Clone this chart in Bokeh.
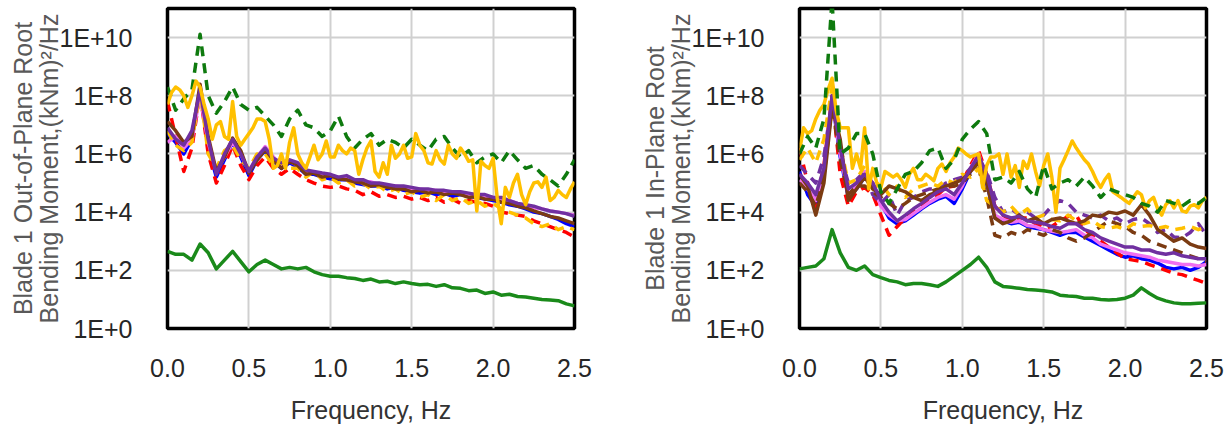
from bokeh.plotting import figure
from bokeh.layouts import row
from bokeh.models import Range1d, FixedTicker, CustomJSTickFormatter
from bokeh.embed import file_html
from bokeh.resources import INLINE

# ---------------- data ----------------
freq_05 = [0.0, 0.05, 0.1, 0.15, 0.2, 0.25, 0.3, 0.35, 0.4, 0.45,
           0.5, 0.55, 0.6, 0.65, 0.7, 0.75, 0.8, 0.85, 0.9, 0.95,
           1.0, 1.05, 1.1, 1.15, 1.2, 1.25, 1.3, 1.35, 1.4, 1.45,
           1.5, 1.55, 1.6, 1.65, 1.7, 1.75, 1.8, 1.85, 1.9, 1.95,
           2.0, 2.05, 2.1, 2.15, 2.2, 2.25, 2.3, 2.35, 2.4, 2.45, 2.5]

freq_025 = [0.0, 0.025, 0.05, 0.075, 0.1, 0.125, 0.15, 0.175, 0.2, 0.225,
            0.25, 0.275, 0.3, 0.325, 0.35, 0.375, 0.4, 0.425, 0.45, 0.475,
            0.5, 0.525, 0.55, 0.575, 0.6, 0.625, 0.65, 0.675, 0.7, 0.725,
            0.75, 0.775, 0.8, 0.825, 0.85, 0.875, 0.9, 0.925, 0.95, 0.975,
            1.0, 1.025, 1.05, 1.075, 1.1, 1.125, 1.15, 1.175, 1.2, 1.225,
            1.25, 1.275, 1.3, 1.325, 1.35, 1.375, 1.4, 1.425, 1.45, 1.475,
            1.5, 1.525, 1.55, 1.575, 1.6, 1.625, 1.65, 1.675, 1.7, 1.725,
            1.75, 1.775, 1.8, 1.825, 1.85, 1.875, 1.9, 1.925, 1.95, 1.975,
            2.0, 2.025, 2.05, 2.075, 2.1, 2.125, 2.15, 2.175, 2.2, 2.225,
            2.25, 2.275, 2.3, 2.325, 2.35, 2.375, 2.4, 2.425, 2.45, 2.475, 2.5]

x_ticks = [0.0, 0.5, 1.0, 1.5, 2.0, 2.5]
y_ticks = [1e0, 1e2, 1e4, 1e6, 1e8, 1e10]

# ----- Out-of-plane (left) -----
oop_green_dash = [2.0e8, 3.2e7, 7.9e7, 1.6e8, 1.3e10, 1.0e8, 2.5e7, 6.3e7, 2.0e8, 5.0e7,
                  3.2e7, 4.0e7, 2.0e7, 1.0e7, 4.0e6, 1.6e7, 3.2e7, 1.0e7, 7.9e6, 4.0e6,
                  6.3e6, 2.0e7, 4.0e6, 1.6e6, 3.2e6, 5.0e6, 2.0e6, 3.2e6, 2.5e6, 1.6e6,
                  3.2e6, 2.0e6, 1.3e6, 3.2e6, 4.0e6, 1.6e6, 7.9e5, 1.3e6, 5.0e5, 7.9e5,
                  1.0e6, 5.0e5, 1.3e6, 6.3e5, 3.2e5, 4.0e5, 2.0e5, 1.3e5, 7.9e4, 2.0e5, 6.3e5]
oop_gold_solid = [5.0e7, 1.3e8, 2.0e8, 1.6e8, 1.0e8, 4.0e7, 1.0e8, 3.2e8, 2.0e8, 5.0e7,
                  1.6e7, 3.2e6, 1.0e7, 1.3e7, 4.0e6, 3.2e6, 6.3e7, 4.0e6, 2.0e6, 3.2e6,
                  5.0e6, 7.9e6, 1.6e7, 1.6e7, 1.3e7, 3.2e6, 3.2e5, 4.0e5, 1.0e6, 3.2e5,
                  2.5e6, 7.9e6, 1.0e6, 5.0e5, 3.2e5, 7.9e5, 2.0e6, 6.3e5, 1.0e6, 2.8e6,
                  7.9e5, 7.9e5, 2.0e6, 1.3e6, 1.0e6, 1.6e6, 1.3e6, 2.0e5, 6.3e5, 1.6e6,
                  2.8e6, 2.5e5, 1.6e5, 5.0e5, 2.0e5, 2.0e6, 7.1e5, 1.0e6, 2.0e6, 7.1e5,
                  7.9e5, 5.0e6, 2.0e6, 1.3e6, 5.0e5, 4.5e5, 1.3e6, 6.3e5, 4.5e5, 2.0e6,
                  1.0e6, 7.1e5, 1.6e6, 1.0e6, 5.6e5, 6.3e5, 1.1e4, 5.6e5, 4.0e5, 3.2e5,
                  7.1e5, 3.2e4, 4.0e3, 7.1e4, 3.2e4, 1.0e5, 2.0e5, 4.0e4, 1.8e4, 5.0e4,
                  1.0e5, 1.1e5, 7.1e4, 1.6e5, 2.5e4, 3.2e4, 5.6e4, 4.0e4, 3.2e4, 6.3e4,
                  1.1e5]
oop_gold_dash = [6.3e6, 2.0e6, 1.3e6, 2.5e6, 1.6e8, 1.0e6, 3.2e5, 1.3e6, 2.0e6, 6.3e5,
                 3.2e5, 1.0e6, 1.0e6, 4.0e5, 5.0e5, 3.2e5, 3.2e5, 1.6e5, 2.5e5, 1.3e5,
                 1.6e5, 1.0e5, 1.3e5, 7.9e4, 1.0e5, 6.3e4, 7.9e4, 5.0e4, 6.3e4, 4.0e4,
                 5.0e4, 3.2e4, 4.0e4, 2.5e4, 4.0e4, 2.5e4, 3.2e4, 2.0e4, 2.5e4, 1.6e4,
                 2.0e4, 1.3e4, 1.0e4, 7.9e3, 6.3e3, 4.0e3, 3.2e3, 4.0e3, 2.5e3, 3.2e3, 2.5e3]
oop_red_dash = [6.3e7, 4.0e6, 2.5e5, 1.6e6, 1.3e8, 1.0e6, 1.0e5, 4.0e5, 2.0e6, 4.0e5,
                1.3e5, 4.0e5, 7.9e5, 3.2e5, 2.0e5, 3.2e5, 2.0e5, 1.3e5, 1.0e5, 7.9e4,
                7.1e4, 7.9e4, 6.3e4, 5.6e4, 4.0e4, 5.0e4, 3.5e4, 4.0e4, 3.2e4, 3.5e4,
                2.8e4, 3.2e4, 2.5e4, 3.2e4, 2.2e4, 2.8e4, 2.0e4, 2.5e4, 2.2e4, 2.0e4,
                1.6e4, 1.0e4, 8.9e3, 7.9e3, 7.1e3, 5.0e3, 4.0e3, 3.2e3, 2.5e3, 2.0e3, 1.4e3]
oop_blue = [5.0e6, 2.5e6, 1.0e6, 3.2e6, 1.6e8, 1.6e6, 1.6e5, 6.3e5, 2.5e6, 7.9e5,
            1.8e5, 6.3e5, 1.3e6, 5.6e5, 3.2e5, 5.0e5, 3.5e5, 2.0e5, 2.0e5, 1.6e5,
            1.4e5, 1.3e5, 1.3e5, 1.0e5, 8.9e4, 7.9e4, 7.9e4, 6.3e4, 7.1e4, 5.6e4,
            5.0e4, 4.5e4, 5.0e4, 4.0e4, 4.5e4, 3.5e4, 4.0e4, 3.5e4, 3.2e4, 2.8e4,
            2.5e4, 2.2e4, 1.8e4, 1.6e4, 1.3e4, 1.0e4, 8.9e3, 7.1e3, 5.6e3, 4.0e3, 3.2e3]
oop_magenta = [2.5e6, 4.0e6, 1.6e6, 3.2e6, 1.0e8, 2.5e6, 2.5e5, 7.9e5, 2.5e6, 1.0e6,
               2.5e5, 7.9e5, 1.8e6, 7.9e5, 4.0e5, 5.6e5, 4.0e5, 2.5e5, 2.2e5, 2.0e5,
               1.8e5, 1.6e5, 1.4e5, 1.3e5, 1.0e5, 1.1e5, 8.9e4, 7.9e4, 7.9e4, 7.1e4,
               6.3e4, 6.3e4, 5.6e4, 5.6e4, 5.0e4, 5.0e4, 4.5e4, 4.0e4, 4.0e4, 3.5e4,
               3.2e4, 2.8e4, 2.5e4, 2.0e4, 1.6e4, 1.4e4, 1.3e4, 1.1e4, 1.0e4, 8.9e3, 7.9e3]
oop_purple = [7.9e6, 3.2e6, 2.0e6, 6.3e6, 1.6e8, 3.2e6, 2.0e5, 1.0e6, 3.2e6, 1.0e6,
              2.5e5, 7.9e5, 1.6e6, 7.1e5, 5.0e5, 6.3e5, 5.0e5, 2.8e5, 2.5e5, 2.2e5,
              2.0e5, 1.6e5, 1.8e5, 1.3e5, 1.3e5, 1.0e5, 1.0e5, 8.9e4, 7.9e4, 7.9e4,
              7.1e4, 6.3e4, 6.3e4, 5.6e4, 5.6e4, 5.0e4, 5.0e4, 4.5e4, 4.0e4, 4.0e4,
              3.2e4, 3.2e4, 2.5e4, 2.0e4, 1.8e4, 1.6e4, 1.3e4, 1.1e4, 1.0e4, 8.9e3, 7.1e3]
oop_brown = [1.3e7, 6.3e6, 2.5e6, 4.0e6, 2.5e8, 4.0e6, 2.5e5, 7.9e5, 3.5e6, 1.3e6,
             2.2e5, 6.3e5, 1.4e6, 6.3e5, 3.2e5, 5.6e5, 4.0e5, 2.0e5, 2.2e5, 1.6e5,
             1.8e5, 1.4e5, 1.3e5, 1.1e5, 1.0e5, 7.9e4, 8.9e4, 7.1e4, 6.3e4, 6.3e4,
             5.0e4, 5.6e4, 4.5e4, 5.0e4, 4.0e4, 4.5e4, 4.0e4, 3.2e4, 3.5e4, 2.8e4,
             2.8e4, 2.2e4, 2.0e4, 1.6e4, 1.4e4, 1.1e4, 8.9e3, 7.1e3, 6.3e3, 5.0e3, 4.0e3]
oop_green_solid = [450, 355, 355, 224, 800, 400, 112, 224, 450, 200,
                   89, 158, 224, 158, 112, 126, 112, 126, 89, 71,
                   63, 63, 56, 52, 45, 50, 40, 42, 35, 40,
                   35, 32, 33, 28, 32, 25, 24, 20, 21, 16,
                   18, 14, 15, 12.6, 12, 11, 10, 9.5, 9, 7, 6]

# ----- In-plane (right) -----
ip_green_dash = [1.0e6, 4.0e6, 1.6e6, 1.6e7, 2.0e11, 1.0e6, 1.6e6, 5.0e6, 5.0e6, 1.0e6,
                 5.0e4, 2.0e4, 6.3e4, 2.0e5, 2.5e5, 5.0e5, 1.3e6, 1.6e6, 3.2e5, 6.3e5,
                 3.2e6, 7.1e6, 1.3e7, 5.0e6, 1.3e5, 1.6e5, 1.0e5, 2.5e5, 6.3e4, 3.2e4,
                 4.0e5, 6.3e4, 1.0e5, 1.3e5, 7.9e4, 1.6e5, 7.9e4, 3.2e4, 6.3e4, 5.0e4,
                 4.0e4, 3.2e4, 2.0e4, 1.6e4, 1.0e4, 2.5e4, 2.0e4, 1.6e4, 2.5e4, 2.0e4, 3.2e4]
ip_gold_solid = [1.3e6, 7.9e6, 5.0e6, 6.3e6, 1.6e7, 3.2e7, 5.0e7, 1.6e8, 4.0e8, 3.2e7,
                 7.9e6, 7.9e6, 7.9e6, 3.2e5, 1.0e6, 3.2e5, 7.9e6, 6.3e4, 3.2e5, 1.0e5,
                 7.1e4, 2.5e5, 2.0e5, 1.6e5, 2.0e5, 1.3e5, 7.1e4, 2.0e5, 3.2e5, 1.3e5,
                 1.3e5, 2.0e5, 1.6e5, 1.2e5, 3.2e5, 4.5e5, 2.5e5, 5.0e5, 7.9e5, 1.6e6,
                 1.3e6, 9.8e5, 7.9e5, 8.9e5, 1.0e6, 7.1e4, 4.0e5, 7.9e5, 7.9e5, 1.0e6,
                 2.0e5, 1.0e6, 1.6e5, 4.0e5, 7.1e4, 5.6e5, 3.2e5, 1.0e6, 2.5e5, 7.9e4,
                 4.0e5, 1.0e6, 1.6e5, 1.0e4, 3.2e5, 6.3e5, 1.3e6, 2.8e6, 1.6e6, 1.0e6,
                 6.3e5, 4.5e5, 2.5e5, 1.2e5, 7.1e4, 1.3e5, 2.0e5, 5.0e4, 4.0e4, 3.2e4,
                 2.5e4, 2.0e4, 3.2e4, 5.0e4, 4.0e4, 1.4e4, 2.5e4, 3.2e4, 1.3e4, 7.9e3,
                 1.8e4, 2.5e4, 1.4e4, 2.5e4, 1.1e4, 1.0e4, 1.6e4, 1.8e4, 1.4e4, 2.5e4,
                 3.2e4]
ip_gold_dash = [6.3e5, 1.6e6, 5.0e5, 3.2e6, 2.0e8, 2.0e6, 1.0e5, 1.3e5, 4.0e5, 6.3e4,
                1.0e5, 4.0e4, 7.9e4, 3.2e4, 6.3e4, 7.9e4, 1.0e5, 7.9e4, 1.3e5, 1.0e5,
                2.0e5, 1.6e5, 3.2e5, 2.5e4, 1.6e4, 1.0e4, 1.6e4, 7.9e3, 1.3e4, 6.3e3,
                7.9e3, 5.6e3, 5.0e3, 7.9e3, 5.0e3, 4.0e3, 5.0e3, 3.2e3, 2.8e3, 3.2e3,
                2.5e3, 4.0e3, 3.2e3, 3.5e3, 2.8e3, 3.2e3, 2.5e3, 2.8e3, 3.2e3, 2.5e3, 3.2e3]
ip_red_dash = [1.6e6, 1.0e5, 1.6e4, 4.0e5, 1.0e8, 2.0e5, 1.6e4, 5.0e4, 7.1e4, 4.0e4,
               7.9e3, 1.6e3, 3.2e3, 6.3e3, 1.0e4, 1.6e4, 2.5e4, 4.0e4, 7.1e4, 7.9e4,
               1.1e5, 4.0e5, 1.3e6, 2.0e5, 1.6e4, 7.9e3, 5.0e3, 6.3e3, 6.3e3, 4.0e3,
               2.8e3, 3.2e3, 5.0e3, 7.1e3, 7.9e3, 2.5e3, 1.6e3, 1.0e3, 630, 400,
               251, 224, 200, 158, 126, 100, 79, 71, 56, 45, 35]
ip_blue = [2.5e5, 4.0e4, 1.6e4, 2.0e5, 7.9e7, 7.9e5, 3.2e4, 6.3e4, 1.6e5, 1.0e5,
           2.0e4, 6.3e3, 4.0e3, 5.0e3, 7.9e3, 1.3e4, 2.0e4, 2.8e4, 3.5e4, 2.0e4,
           6.3e4, 2.5e5, 7.9e5, 1.0e5, 6.3e3, 5.0e3, 4.0e3, 4.5e3, 3.2e3, 2.8e3,
           2.5e3, 2.0e3, 1.6e3, 2.0e3, 2.0e3, 1.4e3, 1.0e3, 710, 500, 355,
           282, 316, 251, 224, 178, 126, 112, 126, 100, 126, 200]
ip_magenta = [1.3e5, 6.3e4, 2.5e4, 2.5e5, 7.9e7, 1.0e6, 4.0e4, 7.9e4, 2.5e5, 1.0e5,
              1.6e4, 7.9e3, 5.0e3, 5.6e3, 8.9e3, 1.4e4, 2.2e4, 3.2e4, 4.0e4, 2.8e4,
              7.9e4, 3.2e5, 1.0e6, 1.3e5, 7.9e3, 5.6e3, 4.5e3, 5.0e3, 3.5e3, 3.2e3,
              2.5e3, 2.2e3, 2.0e3, 2.2e3, 2.5e3, 1.6e3, 1.3e3, 790, 630, 500,
              400, 355, 316, 282, 224, 200, 178, 158, 158, 141, 158]
ip_purple = [2.0e5, 1.0e5, 4.0e4, 3.2e5, 1.0e8, 1.6e6, 6.3e4, 1.0e5, 2.0e5, 1.0e5,
             2.5e4, 1.0e4, 5.0e3, 7.9e3, 1.3e4, 2.0e4, 3.2e4, 5.0e4, 6.3e4, 4.0e4,
             1.0e5, 3.2e5, 8.9e5, 2.0e5, 1.6e4, 7.9e3, 6.3e3, 7.1e3, 5.0e3, 4.5e3,
             4.0e3, 3.2e3, 2.8e3, 4.0e3, 4.0e3, 2.5e3, 2.0e3, 1.3e3, 1.0e3, 790,
             630, 630, 500, 500, 400, 355, 400, 316, 282, 251, 251]
ip_purple_dash = [4.0e5, 2.0e5, 1.0e5, 7.9e5, 7.9e7, 1.0e6, 1.0e5, 1.3e5, 2.5e5, 4.0e4,
                  2.0e4, 4.0e4, 7.9e3, 2.5e4, 3.2e4, 5.0e4, 6.3e4, 6.3e4, 1.0e5, 1.3e5,
                  1.6e5, 3.2e5, 6.3e5, 2.5e5, 3.2e4, 1.0e4, 1.3e4, 7.9e3, 1.0e4, 6.3e3,
                  7.9e3, 1.6e4, 2.5e4, 2.0e4, 1.0e4, 7.9e3, 6.3e3, 7.9e3, 5.0e3, 6.3e3,
                  4.0e3, 5.6e3, 6.3e3, 4.0e3, 2.0e3, 2.5e3, 1.4e3, 1.3e3, 2.0e3, 4.0e3, 1.6e3]
ip_brown = [2.0e5, 7.9e4, 7.9e3, 1.0e5, 4.0e7, 3.2e6, 2.5e4, 6.3e4, 1.6e5, 6.3e4,
            4.0e4, 7.9e4, 6.3e4, 5.0e4, 3.2e4, 2.5e4, 4.0e4, 5.0e4, 7.9e4, 1.0e5,
            1.3e5, 2.5e5, 5.0e5, 1.0e5, 6.3e3, 4.0e3, 5.0e3, 7.9e3, 5.0e3, 6.3e3,
            4.0e3, 5.6e3, 6.3e3, 5.0e3, 4.0e3, 5.0e3, 7.9e3, 7.1e3, 1.0e4, 8.9e3,
            1.1e4, 7.9e3, 1.8e4, 7.9e3, 2.5e3, 1.6e3, 1.0e3, 1.3e3, 790, 630, 560]
ip_brown_dash = [1.0e5, 5.0e4, 1.6e4, 1.6e5, 5.0e7, 6.3e5, 4.0e4, 7.9e4, 7.9e4, 5.0e4,
                 3.2e4, 2.0e4, 1.3e4, 2.0e4, 3.2e4, 4.0e4, 5.0e4, 6.3e4, 7.9e4, 7.9e4,
                 1.0e5, 2.0e5, 3.2e5, 3.2e4, 1.6e3, 1.3e3, 2.0e3, 1.6e3, 2.5e3, 2.0e3,
                 1.6e3, 2.5e3, 2.0e3, 1.3e3, 1.0e3, 1.3e3, 2.0e3, 3.2e3, 5.0e3, 4.0e3,
                 3.2e3, 2.0e3, 1.6e3, 1.0e3, 790, 630, 500, 400, 316, 251, 200]
ip_green_solid = [112, 126, 141, 251, 2500, 400, 126, 100, 141, 71,
                  56, 45, 40, 32, 35, 35, 32, 28, 40, 63,
                  100, 158, 282, 126, 40, 28, 26, 24, 22, 21,
                  20, 18, 14, 13, 12.6, 11, 11, 10, 9.5, 10,
                  11, 14, 25, 16, 11, 8.9, 7.6, 7.1, 7.1, 7.4, 7.6]

# ---------------- styling ----------------
FONT = "Liberation Sans"
GREEN_DASH = "#0E7A0E"
GREEN = "#1A8A1A"
GOLD = "#FFC000"
RED = "#FF0000"
BLUE = "#0000FF"
MAGENTA = "#F070F0"
PURPLE = "#7030A0"
BROWN = "#7B3B12"
DASH = "10 7"
LW = 3.5


def make_panel(ylabel, series, border_left, border_right):
    p = figure(width=615, height=429,
               x_range=Range1d(0, 2.5), y_range=Range1d(1, 1e11),
               y_axis_type="log", output_backend="svg", toolbar_location=None,
               min_border_left=border_left, min_border_right=border_right,
               min_border_top=8, min_border_bottom=101)
    p.background_fill_color = "white"
    p.border_fill_color = "white"
    p.outline_line_color = "black"
    p.outline_line_width = 3.5

    for xs, ys, color, dash in series:
        p.line(xs, ys, line_color=color, line_width=LW, line_dash=dash,
               line_join="round")

    # x axis
    p.xaxis.ticker = FixedTicker(ticks=x_ticks, minor_ticks=[])
    p.xaxis.formatter = CustomJSTickFormatter(code="return tick.toFixed(1);")
    p.xaxis.axis_label = "Frequency, Hz"
    p.xaxis.axis_label_standoff = 16
    p.xaxis.major_label_standoff = 24

    # y axis
    p.yaxis.ticker = FixedTicker(ticks=y_ticks, minor_ticks=[])
    p.yaxis.formatter = CustomJSTickFormatter(
        code="return '1E+' + Math.round(Math.log10(tick));")
    p.yaxis.axis_label = ylabel
    p.yaxis.axis_label_standoff = -6
    p.yaxis.major_label_standoff = 29
    p.yaxis.axis_label_text_line_height = 0.9

    for ax in (p.xaxis, p.yaxis):
        ax.axis_line_color = None
        ax.major_tick_line_color = None
        ax.minor_tick_line_color = None
        ax.major_label_text_font = FONT
        ax.major_label_text_font_size = "25px"
        ax.major_label_text_color = "#262626"
        ax.axis_label_text_font = FONT
        ax.axis_label_text_font_size = "25px"
        ax.axis_label_text_font_style = "normal"
    p.xaxis.axis_label_text_color = "#333333"
    p.yaxis.axis_label_text_color = "#595959"

    for g in (p.xgrid, p.ygrid):
        g.grid_line_color = "#D0D0D0"
        g.grid_line_width = 2
    return p


left_series = [
    (freq_05, oop_blue, BLUE, "solid"),
    (freq_05, oop_red_dash, RED, DASH),
    (freq_05, oop_magenta, MAGENTA, "solid"),
    (freq_05, oop_gold_dash, GOLD, DASH),
    (freq_05, oop_brown, BROWN, "solid"),
    (freq_05, oop_purple, PURPLE, "solid"),
    (freq_05, oop_green_dash, GREEN_DASH, DASH),
    (freq_025, oop_gold_solid, GOLD, "solid"),
    (freq_05, oop_green_solid, GREEN, "solid"),
]
right_series = [
    (freq_05, ip_blue, BLUE, "solid"),
    (freq_05, ip_red_dash, RED, DASH),
    (freq_05, ip_magenta, MAGENTA, "solid"),
    (freq_05, ip_purple_dash, PURPLE, DASH),
    (freq_05, ip_brown_dash, BROWN, DASH),
    (freq_05, ip_gold_dash, GOLD, DASH),
    (freq_05, ip_brown, BROWN, "solid"),
    (freq_05, ip_purple, PURPLE, "solid"),
    (freq_025, ip_gold_solid, GOLD, "solid"),
    (freq_05, ip_green_dash, GREEN_DASH, DASH),
    (freq_05, ip_green_solid, GREEN, "solid"),
]

p1 = make_panel("Blade 1 Out-of-Plane Root\nBending Moment,(kNm)\u00b2/Hz",
                left_series, 167, 41)
p2 = make_panel("Blade 1 In-Plane Root\nBending Moment,(kNm)\u00b2/Hz",
                right_series, 184, 24)

layout = row(p1, p2)
open("out.html", "w").write(file_html(layout, INLINE))
